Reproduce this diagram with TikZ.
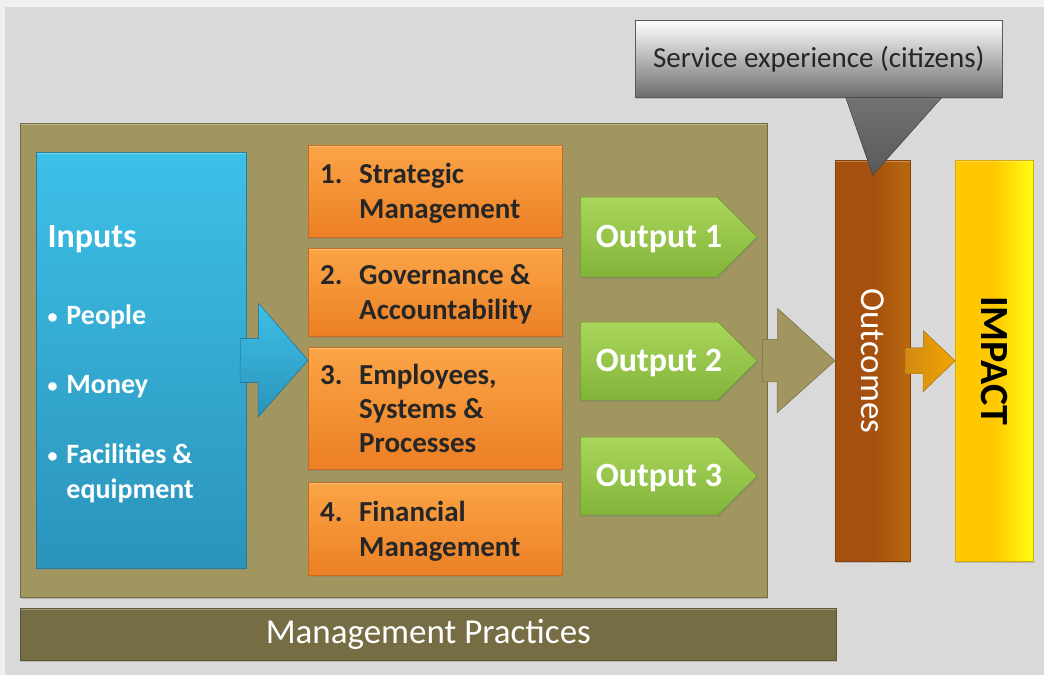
\documentclass[tikz,border=0pt]{standalone}
\usepackage{fontspec}
\setmainfont{Carlito}
\usetikzlibrary{shadows,shapes.symbols,positioning}

\definecolor{pagebg}{HTML}{F0F0F0}
\definecolor{panel}{HTML}{D9D9D9}
\definecolor{olive}{HTML}{A19660}
\definecolor{olivedark}{HTML}{766D44}
\definecolor{cyantop}{HTML}{3DC0E8}
\definecolor{cyanbot}{HTML}{2B93BA}
\definecolor{orangetop}{HTML}{FBA546}
\definecolor{orangebot}{HTML}{EC7F25}
\definecolor{greentop}{HTML}{AAD65B}
\definecolor{greenbot}{HTML}{82B43A}
\definecolor{brown}{HTML}{A5500E}
\definecolor{brownlight}{HTML}{B9690F}
\definecolor{gold}{HTML}{FFC800}
\definecolor{lemon}{HTML}{FFFF10}
\definecolor{amberdark}{HTML}{D08A12}
\definecolor{amber}{HTML}{F2A600}
\definecolor{textdark}{HTML}{262626}

\tikzset{
  bevel/.style={path picture={\draw[white, opacity=.3, line width=4pt]
    (path picture bounding box.north west) -- (path picture bounding box.north east);}},
  shade box/.style={anchor=north west, inner sep=0pt, bevel,
    drop shadow={shadow xshift=1pt, shadow yshift=-2pt, opacity=.35}},
  area/.style={shade box, minimum width=254pt, top color=orangetop,
    bottom color=orangebot, draw=orangebot!85!black, line width=.5pt},
  area text/.style={text=textdark, anchor=west, inner sep=0pt, yshift=-3pt,
    font=\bfseries\fontsize{29}{35}\selectfont},
  output/.style={signal, signal to=east, signal pointer angle=90, anchor=west,
    minimum width=177pt, inner sep=0pt, top color=greentop,
    bottom color=greenbot, draw=greenbot!80!black, line width=.5pt,
    drop shadow={shadow xshift=1pt, shadow yshift=-2pt, opacity=.35}},
  output label/.style={text=white, yshift=-2pt, font=\bfseries\fontsize{34}{40}\selectfont},
  white label/.style={text=white, anchor=west, yshift=-2pt, font=\bfseries\fontsize{28}{35}\selectfont}
}

\newcommand{\practice}[2]{\begin{tabular}{@{}p{39pt}@{}l@{}}#1 & #2\end{tabular}}
\newcommand{\dotmark}{{\fontsize{20}{24}\selectfont\raisebox{1pt}{\textbullet}}}

\begin{document}
\begin{tikzpicture}[x=1pt,y=-1pt]
\useasboundingbox (0,0) rectangle (1044,675);
\fill[pagebg] (0,0) rectangle (1044,675);
\fill[panel] (5,7) rectangle (1044,675);

% frame and bar
\node[shade box, minimum width=747pt, minimum height=474pt, fill=olive,
  draw=olivedark, line width=.6pt] (frame) at (20,123) {};
\node[shade box, minimum width=816pt, minimum height=52pt, fill=olivedark,
  draw=olivedark!80!black, line width=.6pt, text=white,
  font=\fontsize{35}{40}\selectfont] (practices) at (20,608) {Management Practices};

% inputs
\node[shade box, minimum width=210pt, minimum height=416pt, top color=cyantop,
  bottom color=cyanbot, draw=cyanbot!85!black, line width=.5pt] (inputs) at (36,152) {};
\node[white label, font=\bfseries\fontsize{34}{40}\selectfont] (title) at (44,237) {Inputs};
\node[white label] (people) at (44,315) {\dotmark\hspace{9pt}People};
\node[white label] (money) at (44,385) {\dotmark\hspace{9pt}Money};
\node[white label] (facilities) at (44,472)
  {\begin{tabular}{@{}l@{\hspace{9pt}}l@{}}\dotmark & Facilities \&\\ & equipment\end{tabular}};

% management areas
\node[area, minimum height=92pt] (s1) at (308,145) {};
\node[area, minimum height=88pt] (s2) at (308,248) {};
\node[area, minimum height=122pt] (s3) at (308,347) {};
\node[area, minimum height=93pt] (s4) at (308,482) {};
\node[area text] (s1text) at ([xshift=12pt]s1.west) {\practice{1.}{Strategic\\ & Management}};
\node[area text] (s2text) at ([xshift=12pt]s2.west) {\practice{2.}{Governance \&\\ & Accountability}};
\node[area text, font=\bfseries\fontsize{29}{34}\selectfont] (s3text) at ([xshift=12pt]s3.west) {\practice{3.}{Employees,\\ & Systems \&\\ & Processes}};
\node[area text] (s4text) at ([xshift=12pt]s4.west) {\practice{4.}{Financial\\ & Management}};

% blue arrow
\fill[top color=cyantop, bottom color=cyanbot, draw=cyanbot!85!black, line width=.5pt]
  ([xshift=-6pt]inputs.east) ++(0,-22) -- ++(18,0) -- ++(0,-35)
  -- (s3.west |- inputs.east) -- ++(-50,57) -- ++(0,-35) -- ++(-18,0) -- cycle;

% outputs
\node[output, minimum height=80pt] (out1) at (580,237) {};
\node[output, minimum height=78pt] (out2) at (580,361) {};
\node[output, minimum height=78pt] (out3) at (580,476) {};
\node[output label] (out1text) at ([xshift=79pt]out1.west) {Output 1};
\node[output label] (out2text) at ([xshift=79pt]out2.west) {Output 2};
\node[output label] (out3text) at ([xshift=79pt]out3.west) {Output 3};

% outcomes and impact
\node[shade box, minimum width=75pt, minimum height=401pt, left color=brown,
  right color=brownlight, middle color=brown, draw=brown!80!black, line width=.5pt] (outcomes) at (835,160) {};
\node[rotate=-90, text=white, font=\fontsize{35}{40}\selectfont] (outlabel) at (outcomes.center) {Outcomes};
\node[shade box, minimum width=78pt, minimum height=401pt, left color=gold,
  right color=lemon, middle color=gold, draw=gold!85!black, line width=.5pt] (impact) at (955,160) {};
\node[rotate=-90, text=black, font=\bfseries\fontsize{40}{46}\selectfont] (implabel) at (impact.center) {IMPACT};

% olive arrow
\fill[fill=olive, draw=olivedark, line width=.5pt]
  ([xshift=-5pt]frame.east) ++(0,-21) -- ++(15,0) -- ++(0,-31)
  -- (outcomes.west) -- ++(-58,52) -- ++(0,-31) -- ++(-15,0) -- cycle;

% amber arrow
\fill[left color=amberdark, right color=amber, draw=amberdark!85!black, line width=.4pt]
  ([xshift=-5pt]outcomes.east) ++(0,-13) -- ++(18,0) -- ++(0,-17)
  -- (impact.west) -- ++(-32,31) -- ++(0,-18) -- ++(-18,0) -- cycle;

% callout
\node[shade box, minimum width=367pt, minimum height=77pt, top color=white,
  bottom color=gray!85!black, draw=gray!70!black, line width=.5pt,
  text=textdark, font=\fontsize{29}{34}\selectfont] (service) at (635,20) {Service experience (citizens)};
\fill[top color=gray!90!black, bottom color=gray!70!black, draw=gray!60!black, line width=.5pt]
  ([xshift=27pt]service.south) -- ([yshift=-15pt]outcomes.north) -- ([xshift=123pt]service.south) -- cycle;
\end{tikzpicture}
\end{document}
